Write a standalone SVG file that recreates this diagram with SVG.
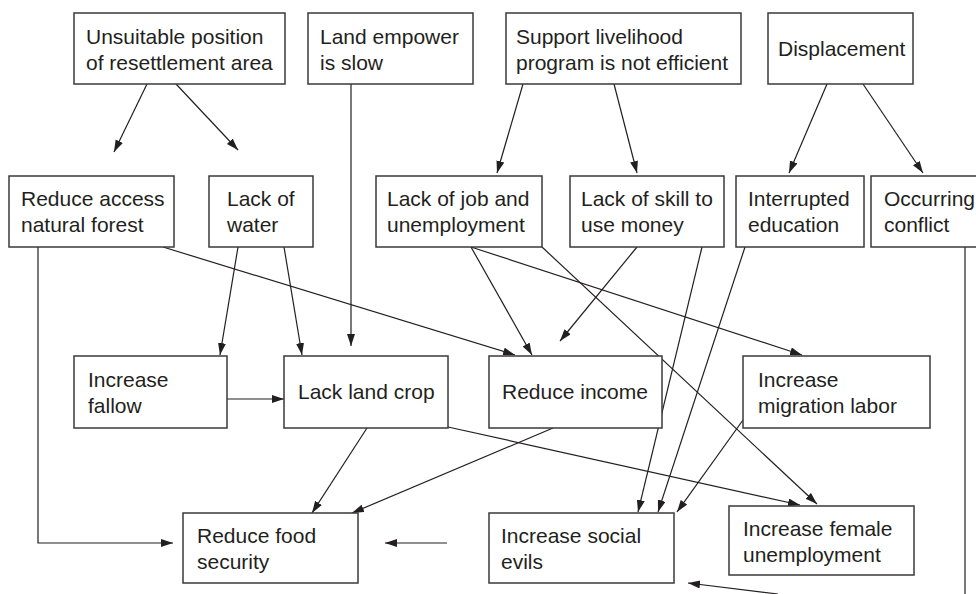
<svg xmlns="http://www.w3.org/2000/svg" width="976" height="594" viewBox="0 0 976 594">
  <defs>
    <marker id="arrow" markerUnits="userSpaceOnUse" markerWidth="13" markerHeight="9" refX="12" refY="4" orient="auto">
      <path d="M0,0 L12,4 L0,8 z" fill="#231f20"/>
    </marker>
    <style>
      .box { fill: #ffffff; stroke: #3a3a3a; stroke-width: 1.5; }
      .lbl { font-family: "Liberation Sans", Arial, sans-serif; font-size: 21px; fill: #231f20; }
      .edge { fill: none; stroke: #231f20; stroke-width: 1.2; }
      .arr { marker-end: url(#arrow); }
    </style>
  </defs>
  <rect width="976" height="594" fill="#ffffff"/>

  <!-- connectors -->
  <g id="connectors">
    <path class="edge arr" d="M147,84 L114,152"/>
    <path class="edge arr" d="M176,84 L238,150"/>
    <path class="edge arr" d="M351,84 L351,346"/>
    <path class="edge arr" d="M523,84 L497,173"/>
    <path class="edge arr" d="M614,84 L637,173"/>
    <path class="edge arr" d="M827,84 L789,173"/>
    <path class="edge arr" d="M863,84 L923,173"/>
    <path class="edge arr" d="M38,247 V543 H173"/>
    <path class="edge arr" d="M163,247 L515,355"/>
    <path class="edge arr" d="M238,247 L220,355"/>
    <path class="edge arr" d="M284,247 L302,355"/>
    <path class="edge arr" d="M471,247 L532,355"/>
    <path class="edge arr" d="M471,247 L802,355"/>
    <path class="edge arr" d="M542,247 L817,504"/>
    <path class="edge arr" d="M637,247 L560,341"/>
    <path class="edge arr" d="M702,247 L638,512"/>
    <path class="edge arr" d="M745,247 L658,512"/>
    <path class="edge" d="M965,247 V594"/>
    <path class="edge arr" d="M227,399 L284,399"/>
    <path class="edge arr" d="M367,428 L312,513"/>
    <path class="edge arr" d="M553,428 L352,513"/>
    <path class="edge arr" d="M448,427 L800,505"/>
    <path class="edge arr" d="M743,420 L677,512"/>
    <path class="edge arr" d="M447,543 L385,543"/>
    <path class="edge arr" d="M778,594 L688,583"/>
  </g>

  <!-- top row -->
  <g id="unsuitable">
    <rect class="box" x="74" y="13" width="211" height="71"/>
    <text class="lbl" x="86" y="44">Unsuitable position</text>
    <text class="lbl" x="86" y="70">of resettlement area</text>
  </g>
  <g id="land-empower">
    <rect class="box" x="308" y="13" width="165" height="71"/>
    <text class="lbl" x="320" y="44">Land empower</text>
    <text class="lbl" x="320" y="70">is slow</text>
  </g>
  <g id="support">
    <rect class="box" x="506" y="13" width="235" height="71"/>
    <text class="lbl" x="516" y="44">Support livelihood</text>
    <text class="lbl" x="516" y="70">program is not efficient</text>
  </g>
  <g id="displacement">
    <rect class="box" x="768" y="13" width="145" height="71"/>
    <text class="lbl" x="778" y="56">Displacement</text>
  </g>

  <!-- second row -->
  <g id="access-forest">
    <rect class="box" x="9" y="176" width="165" height="71"/>
    <text class="lbl" x="21" y="206">Reduce access</text>
    <text class="lbl" x="21" y="232">natural forest</text>
  </g>
  <g id="lack-water">
    <rect class="box" x="209" y="176" width="104" height="71"/>
    <text class="lbl" x="227" y="206">Lack of</text>
    <text class="lbl" x="227" y="232">water</text>
  </g>
  <g id="lack-job">
    <rect class="box" x="376" y="176" width="166" height="71"/>
    <text class="lbl" x="387" y="206">Lack of job and</text>
    <text class="lbl" x="387" y="232">unemployment</text>
  </g>
  <g id="lack-skill">
    <rect class="box" x="570" y="176" width="154" height="71"/>
    <text class="lbl" x="581" y="206">Lack of skill to</text>
    <text class="lbl" x="581" y="232">use money</text>
  </g>
  <g id="interrupted">
    <rect class="box" x="736" y="176" width="128" height="71"/>
    <text class="lbl" x="748" y="206">Interrupted</text>
    <text class="lbl" x="748" y="232">education</text>
  </g>
  <g id="conflict">
    <rect class="box" x="871" y="176" width="125" height="71"/>
    <text class="lbl" x="884" y="206">Occurring</text>
    <text class="lbl" x="884" y="232">conflict</text>
  </g>

  <!-- third row -->
  <g id="fallow">
    <rect class="box" x="74" y="356" width="153" height="72"/>
    <text class="lbl" x="88" y="387">Increase</text>
    <text class="lbl" x="88" y="413">fallow</text>
  </g>
  <g id="land-crop">
    <rect class="box" x="284" y="356" width="164" height="72"/>
    <text class="lbl" x="298" y="399">Lack land crop</text>
  </g>
  <g id="income">
    <rect class="box" x="489" y="356" width="173" height="72"/>
    <text class="lbl" x="502" y="399">Reduce income</text>
  </g>
  <g id="migration">
    <rect class="box" x="743" y="356" width="187" height="72"/>
    <text class="lbl" x="758" y="387">Increase</text>
    <text class="lbl" x="758" y="413">migration labor</text>
  </g>

  <!-- bottom row -->
  <g id="food-security">
    <rect class="box" x="183" y="513" width="175" height="70"/>
    <text class="lbl" x="197" y="543">Reduce food</text>
    <text class="lbl" x="197" y="569">security</text>
  </g>
  <g id="social-evils">
    <rect class="box" x="489" y="513" width="185" height="70"/>
    <text class="lbl" x="501" y="543">Increase social</text>
    <text class="lbl" x="501" y="569">evils</text>
  </g>
  <g id="female-unemployment">
    <rect class="box" x="729" y="506" width="185" height="69"/>
    <text class="lbl" x="743" y="536">Increase female</text>
    <text class="lbl" x="743" y="562">unemployment</text>
  </g>
</svg>
